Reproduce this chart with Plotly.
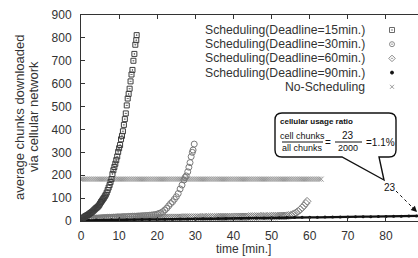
import plotly.graph_objects as go

# ---------------- data ----------------
d15_t = [0, 0.25, 0.5, 0.75, 1, 1.25, 1.5, 1.75, 2, 2.25, 2.5, 2.75, 3, 3.25, 3.5, 3.75,
         4, 4.25, 4.5, 4.75, 5, 5.25, 5.5, 5.75, 6, 6.25, 6.5, 6.75, 7, 7.25, 7.5, 7.75,
         8, 8.25, 8.5, 8.75, 9, 9.25, 9.5, 9.75, 10, 10.25, 10.5, 10.75, 11, 11.25, 11.5,
         11.75, 12, 12.25, 12.5, 12.75, 13, 13.25, 13.5, 13.75, 14, 14.25, 14.5, 14.6]
d15_v = [0, 6, 12, 16, 19, 22, 24, 26, 29, 32, 35, 38, 41, 45, 49, 53,
         57, 60, 64, 69, 76, 83, 89, 95, 101, 108, 115, 124, 135, 146, 157, 170,
         183, 205, 222, 236, 250, 266, 282, 302, 318, 332, 357, 372, 392, 420, 445,
         470, 505, 535, 555, 578, 610, 640, 660, 700, 730, 770, 790, 812]

d30_t = [0, 0.5, 1, 1.5, 2, 2.5, 3, 3.5, 4, 4.5, 5, 5.5, 6, 6.5, 7, 7.5, 8, 8.5, 9, 9.5,
         10, 10.5, 11, 11.5, 12, 12.5, 13, 13.5, 14, 14.5, 15, 15.5, 16, 16.5, 17, 17.5,
         18, 18.5, 19, 19.5, 20, 20.5, 21, 21.5, 22, 22.5, 23, 23.5, 24, 24.5, 25, 25.5,
         26, 26.5, 27, 27.3, 27.6, 28, 28.3, 28.6, 28.9, 29.2, 29.4, 29.7]
d30_v = [0, 4, 7, 9, 10, 11, 12, 12, 13, 13, 14, 14, 15, 15, 16, 16, 16, 17, 17, 18,
         18, 18, 19, 19, 19, 20, 20, 21, 21, 21, 22, 22, 23, 23, 24, 24,
         25, 26, 27, 28, 30, 33, 36, 41, 48, 56, 66, 76, 84, 95, 106, 120,
         140, 157, 179, 190, 197, 215, 235, 255, 281, 300, 310, 336]

d60_t = [0, 0.5, 1, 1.5, 2, 2.5, 3, 3.5, 4, 4.5,
         5, 5.5, 6, 6.5, 7, 7.5, 8, 8.5, 9, 9.5,
         10, 10.5, 11, 11.5, 12, 12.5, 13, 13.5, 14, 14.5,
         15, 15.5, 16, 16.5, 17, 17.5, 18, 18.5, 19, 19.5,
         20, 20.5, 21, 21.5, 22, 22.5, 23, 23.5, 24, 24.5,
         25, 25.5, 26, 26.5, 27, 27.5, 28, 28.5, 29, 29.5,
         30, 30.5, 31, 31.5, 32, 32.5, 33, 33.5, 34, 34.5,
         35, 35.5, 36, 36.5, 37, 37.5, 38, 38.5, 39, 39.5,
         40, 40.5, 41, 41.5, 42, 42.5, 43, 43.5, 44, 44.5,
         45, 45.5, 46, 46.5, 47, 47.5, 48, 48.5, 49, 49.5,
         50, 50.5, 51, 51.5, 52, 52.5, 53, 53.5, 54, 54.5,
         55, 55.5, 56, 56.5, 57, 57.5, 58, 58.5, 59, 59.3]
d60_v = [0, 3, 5, 6, 7, 7, 8, 8, 9, 9,
         9, 10, 10, 10, 10, 10, 10, 11, 11, 11,
         11, 11, 11, 11, 11, 12, 12, 12, 12, 12,
         12, 12, 12, 12, 12, 13, 13, 13, 13, 13,
         13, 13, 13, 14, 14, 14, 14, 14, 14, 14,
         14, 14, 14, 15, 15, 15, 15, 15, 15, 15,
         15, 15, 15, 16, 16, 16, 16, 16, 16, 16,
         16, 16, 17, 17, 17, 17, 17, 17, 17, 17,
         18, 18, 18, 18, 18, 18, 18, 18, 19, 19,
         19, 19, 19, 19, 20, 20, 20, 20, 20, 20,
         21, 21, 21, 21, 22, 22, 22, 22, 23, 24,
         25, 28, 32, 37, 43, 50, 58, 67, 77, 86]

d90_t = [0, 2, 4, 6, 8, 10, 12, 14, 16, 18, 20, 22, 24, 26, 28, 30, 32, 34, 36, 38, 40,
         42, 44, 46, 48, 50, 52, 54, 56, 58, 60, 62, 64, 66, 68, 70, 72, 74, 76, 78, 80,
         82, 84, 86, 88, 90]
d90_v = [0, 3, 4, 4, 5, 5, 6, 6, 7, 7, 7, 8, 8, 9, 9, 10, 10, 10, 11, 11, 12,
         12, 13, 13, 13, 14, 14, 15, 15, 16, 16, 16, 17, 17, 18, 18, 19, 19, 19, 20, 20,
         21, 21, 22, 22, 23]

nosch_t = [0, 0.5, 1, 1.5, 2, 2.5, 3, 3.5, 4, 4.5, 5, 5.5, 6, 6.5, 7, 7.5, 8, 8.5, 9, 9.5,
           10, 10.5, 11, 11.5, 12, 12.5, 13, 13.5, 14, 14.5, 15, 15.5, 16, 16.5, 17, 17.5,
           18, 18.5, 19, 19.5, 20, 20.5, 21, 21.5, 22, 22.5, 23, 23.5, 24, 24.5, 25, 25.5,
           26, 26.5, 27, 27.5, 28, 28.5, 29, 29.5, 30, 30.5, 31, 31.5, 32, 32.5, 33, 33.5,
           34, 34.5, 35, 35.5, 36, 36.5, 37, 37.5, 38, 38.5, 39, 39.5, 40, 40.5, 41, 41.5,
           42, 42.5, 43, 43.5, 44, 44.5, 45, 45.5, 46, 46.5, 47, 47.5, 48, 48.5, 49, 49.5,
           50, 50.5, 51, 51.5, 52, 52.5, 53, 53.5, 54, 54.5, 55, 55.5, 56, 56.5, 57, 57.5,
           58, 58.5, 59, 59.5, 60, 60.5, 61, 61.5, 62, 62.5, 63]
nosch_v = [183, 183, 183, 183, 183, 183, 183, 183, 183, 183, 183, 183, 183, 183, 183, 183,
           183, 183, 183, 183, 183, 183, 183, 183, 183, 183, 183, 183, 183, 183, 183, 183,
           183, 183, 183, 183, 183, 183, 183, 183, 183, 183, 183, 183, 183, 183, 183, 183,
           183, 183, 183, 183, 183, 183, 183, 183, 183, 183, 183, 183, 183, 183, 183, 183,
           183, 183, 183, 183, 183, 183, 183, 183, 183, 183, 183, 183, 183, 183, 183, 183,
           183, 183, 183, 183, 183, 183, 183, 183, 183, 183, 183, 183, 183, 183, 183, 183,
           183, 183, 183, 183, 183, 183, 183, 183, 183, 183, 183, 183, 183, 183, 183, 183,
           183, 183, 183, 183, 183, 183, 183, 183, 183, 183, 183, 183, 183, 183, 183]

series_names = ["Scheduling(Deadline=15min.)", "Scheduling(Deadline=30min.)",
                "Scheduling(Deadline=60min.)", "Scheduling(Deadline=90min.)",
                "No-Scheduling"]
x_ticks = [0, 10, 20, 30, 40, 50, 60, 70, 80]
y_ticks = [0, 100, 200, 300, 400, 500, 600, 700, 800, 900]

# ---------------- layout geometry (pixels) ----------------
W, H = 418, 258
L, R, T, B = 81, 418, 15, 221
FONT = "Liberation Sans, Arial, sans-serif"


def px(x):
    return (x - L) / (R - L)


def py(y):
    return (B - y) / (B - T)


fig = go.Figure()

fig.add_trace(go.Scatter(x=nosch_t, y=nosch_v, mode="markers", name=series_names[4],
                         marker=dict(symbol="x-thin-open", size=5, color="#9a9a9a",
                                     line=dict(width=1, color="#9a9a9a")),
                         showlegend=False))
fig.add_trace(go.Scatter(x=d60_t, y=d60_v, mode="markers", name=series_names[2],
                         marker=dict(symbol="diamond-open", size=6, color="#808080",
                                     line=dict(width=1, color="#808080")),
                         showlegend=False))
fig.add_trace(go.Scatter(x=d30_t, y=d30_v, mode="markers", name=series_names[1],
                         marker=dict(symbol="circle-open", size=6, color="#7a7a7a",
                                     line=dict(width=1, color="#7a7a7a")),
                         showlegend=False))
fig.add_trace(go.Scatter(x=d90_t, y=d90_v, mode="lines+markers", name=series_names[3],
                         line=dict(color="#111111", width=2.4),
                         marker=dict(symbol="circle", size=3, color="#111111"),
                         showlegend=False))
fig.add_trace(go.Scatter(x=d15_t, y=d15_v, mode="markers", name=series_names[0],
                         marker=dict(symbol="square-open-dot", size=5, color="#3c3c3c",
                                     line=dict(width=1, color="#3c3c3c")),
                         showlegend=False))

# ---------------- manual key (text left, symbol right) ----------------
key_symbols = ["square-open-dot", "circle-open-dot", "diamond-open-dot", "circle", "x-thin-open"]
key_colors = ["#6a6a6a", "#8a8a8a", "#8a8a8a", "#111111", "#9a9a9a"]
key_sizes = [5, 5, 5, 3, 4]
key_rows = [30, 44.2, 58.4, 72.6, 86.8]
for name, sym, col, sz, yy in zip(series_names, key_symbols, key_colors, key_sizes, key_rows):
    fig.add_trace(go.Scatter(x=[px(392)], y=[py(yy)], xaxis="x2", yaxis="y2", mode="markers",
                             marker=dict(symbol=sym, size=sz, color=col,
                                         line=dict(width=1, color=col)),
                             showlegend=False, hoverinfo="skip"))
    fig.add_annotation(x=px(367), y=py(yy), xref="paper", yref="paper", text=name,
                       showarrow=False, xanchor="right", yanchor="middle",
                       font=dict(family=FONT, size=12.2, color="#333333"))

# ---------------- callout ----------------
bl, br, bt, bb, r = 275, 396, 113, 157, 7
path = (f"M {px(bl + r)},{py(bt)} L {px(br - r)},{py(bt)} "
        f"Q {px(br)},{py(bt)} {px(br)},{py(bt + r)} "
        f"L {px(br)},{py(bb - r)} Q {px(br)},{py(bb)} {px(br - r)},{py(bb)} "
        f"L {px(379)},{py(bb)} L {px(384)},{py(180)} L {px(342)},{py(bb)} "
        f"L {px(bl + r)},{py(bb)} Q {px(bl)},{py(bb)} {px(bl)},{py(bb - r)} "
        f"L {px(bl)},{py(bt + r)} Q {px(bl)},{py(bt)} {px(bl + r)},{py(bt)} Z")
fig.add_shape(type="path", path=path, xref="paper", yref="paper",
              line=dict(color="#111111", width=1.4), fillcolor="white", layer="above")


def txt(x, y, s, size=9, anchor="center", bold=False):
    fig.add_annotation(x=px(x), y=py(y), xref="paper", yref="paper",
                       text=f"<b>{s}</b>" if bold else s, showarrow=False,
                       xanchor=anchor, yanchor="middle",
                       font=dict(family=FONT, size=size, color="#111111"))


txt(278, 121, "cellular usage ratio", size=8, anchor="left", bold=True)
txt(302, 136, "cell chunks", size=9)
txt(302, 148, "all chunks", size=9)
txt(328, 142, "=", size=10)
txt(348, 135, "23", size=10)
txt(348, 148, "2000", size=9)
txt(364, 142, "=1.1%", size=10, anchor="left")
fig.add_shape(type="line", xref="paper", yref="paper", x0=px(282), x1=px(323),
              y0=py(142), y1=py(142), line=dict(color="#111111", width=1))
fig.add_shape(type="line", xref="paper", yref="paper", x0=px(335), x1=px(362),
              y0=py(142), y1=py(142), line=dict(color="#111111", width=1))

# "23" label with dashed arrow to the end of the 90-min curve
txt(390, 187, "23", size=10)
fig.add_shape(type="line", xref="paper", yref="paper", x0=px(396), y0=py(191),
              x1=px(414), y1=py(209), line=dict(color="#111111", width=1, dash="dot"))
fig.add_annotation(x=px(417), y=py(212), xref="paper", yref="paper", text="",
                   showarrow=True, ax=-6, ay=-6, arrowhead=2, arrowsize=1,
                   arrowwidth=1.2, arrowcolor="#111111")

# ---------------- axis titles ----------------
fig.add_annotation(x=px(19), y=py(117), xref="paper", yref="paper",
                   text="average chunks downloaded", textangle=-90, showarrow=False,
                   xanchor="center", yanchor="middle",
                   font=dict(family=FONT, size=13, color="#333333"))
fig.add_annotation(x=px(33), y=py(117), xref="paper", yref="paper",
                   text="via cellular network", textangle=-90, showarrow=False,
                   xanchor="center", yanchor="middle",
                   font=dict(family=FONT, size=13, color="#333333"))
fig.add_annotation(x=px(243), y=py(249), xref="paper", yref="paper",
                   text="time [min.]", showarrow=False, xanchor="center", yanchor="middle",
                   font=dict(family=FONT, size=12, color="#333333"))

fig.update_layout(
    width=W, height=H,
    margin=dict(l=L, r=W - R, t=T, b=H - B, pad=0),
    paper_bgcolor="white", plot_bgcolor="white",
    font=dict(family=FONT, size=12, color="#333333"),
    showlegend=False,
    xaxis=dict(range=[0, 88.4], tickvals=x_ticks, ticks="inside", ticklen=4,
               tickcolor="#333333", showline=True, linecolor="#333333", linewidth=1,
               mirror="ticks", showgrid=False, zeroline=False,
               tickfont=dict(family=FONT, size=12, color="#333333"),
               ticklabelstandoff=4),
    yaxis=dict(range=[0, 900], tickvals=y_ticks, ticks="inside", ticklen=4,
               tickcolor="#333333", showline=True, linecolor="#333333", linewidth=1,
               showgrid=False, zeroline=False,
               tickfont=dict(family=FONT, size=12, color="#333333"),
               ticklabelstandoff=6),
    xaxis2=dict(range=[0, 1], overlaying="x", visible=False),
    yaxis2=dict(range=[0, 1], overlaying="y", visible=False),
)

fig.write_html("out.html", config={"displayModeBar": False},
               post_script="document.body.style.margin='0px';document.body.style.padding='0px';")
